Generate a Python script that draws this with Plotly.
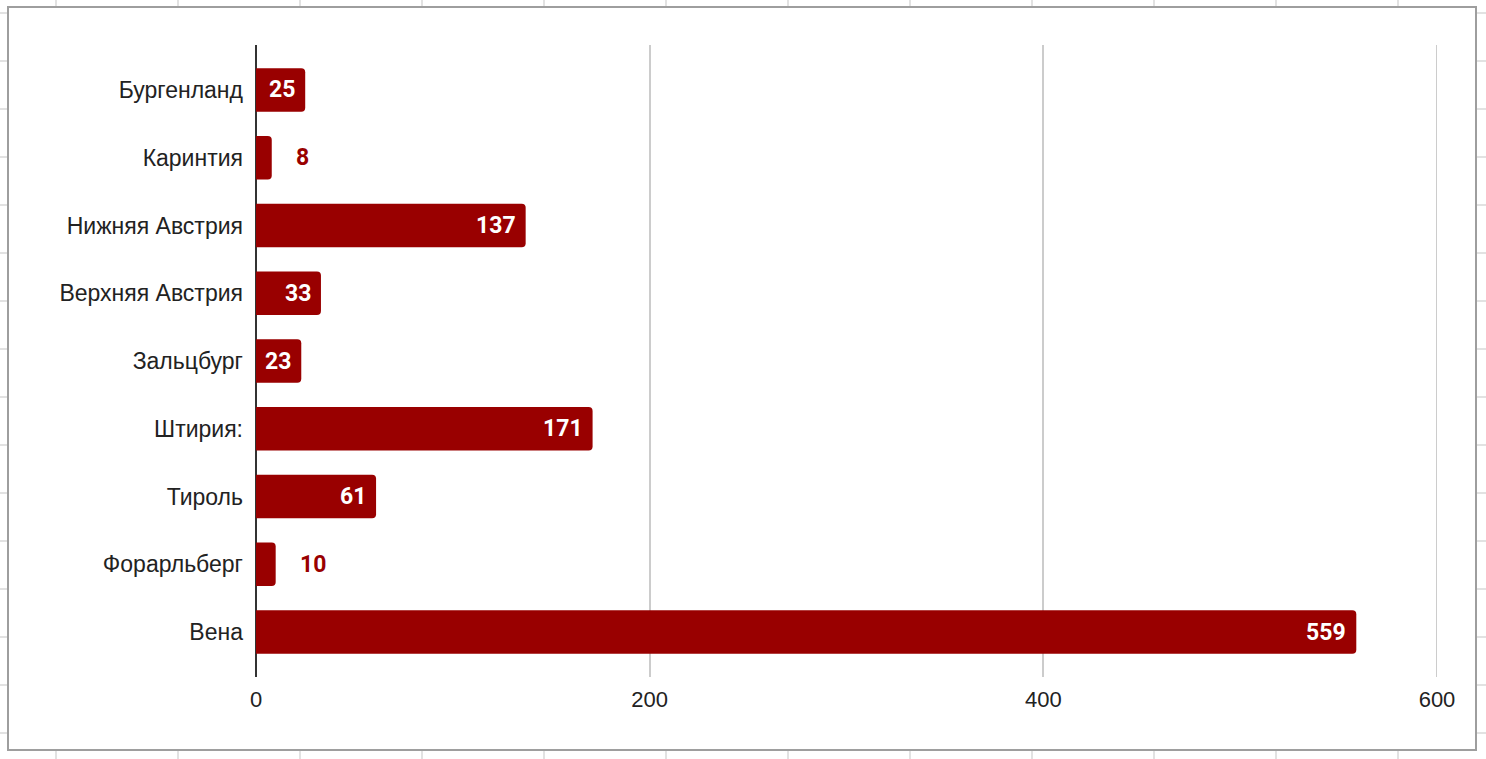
import plotly.graph_objects as go

# ---- data ----
regions = ["Бургенланд", "Каринтия", "Нижняя Австрия", "Верхняя Австрия",
           "Зальцбург", "Штирия:", "Тироль", "Форарльберг", "Вена"]
values = [25, 8, 137, 33, 23, 171, 61, 10, 559]
x_ticks = [0, 200, 400, 600]
x_tick_labels = ["0", "200", "400", "600"]

# ---- layout geometry (pixels) ----
W, H = 1486, 759
L, R, T, B = 256, 49, 45, 82
PW, PH = W - L - R, H - T - B

def px(p):
    return (p - L) / PW

def py(p):
    return 1 - (p - T) / PH

BAR = "#990000"
GRID = "#cccccc"
inside_threshold = 20

fig = go.Figure()
fig.add_trace(go.Bar(
    x=values, y=regions, orientation="h",
    marker=dict(color=BAR, cornerradius=4, line=dict(width=0)),
    width=0.64, hoverinfo="x+y",
))

annotations = []
for r, v in zip(regions, values):
    if v >= inside_threshold:
        annotations.append(dict(x=v, y=r, xref="x", yref="y", text=f"<b>{v}</b>",
                                showarrow=False, xanchor="right", xshift=-8,
                                font=dict(family="Roboto", size=23, color="#ffffff")))
    else:
        annotations.append(dict(x=v, y=r, xref="x", yref="y", text=f"<b>{v}</b>",
                                showarrow=False, xanchor="left", xshift=22,
                                font=dict(family="Roboto", size=23, color=BAR)))

shapes = []
# gridline at the last tick (plotly omits grid lines on the range edge)
shapes.append(dict(type="line", xref="x", yref="paper",
                   x0=x_ticks[-1], x1=x_ticks[-1], y0=0, y1=1,
                   line=dict(color=GRID, width=2), layer="below"))
# spreadsheet grid behind the chart frame
grid_col = "#e2e2e2"
for gx in [56, 178, 300, 422, 544, 666, 788, 910, 1032, 1154, 1276, 1398]:
    shapes.append(dict(type="line", xref="paper", yref="paper",
                       x0=px(gx), x1=px(gx), y0=py(750), y1=py(759),
                       line=dict(color=grid_col, width=2), layer="below"))
    shapes.append(dict(type="line", xref="paper", yref="paper",
                       x0=px(gx), x1=px(gx), y0=py(0), y1=py(7),
                       line=dict(color=grid_col, width=2), layer="below"))
for gy in range(13, 759, 48):
    shapes.append(dict(type="line", xref="paper", yref="paper",
                       x0=px(0), x1=px(8), y0=py(gy), y1=py(gy),
                       line=dict(color=grid_col, width=2), layer="below"))
    shapes.append(dict(type="line", xref="paper", yref="paper",
                       x0=px(1476), x1=px(1486), y0=py(gy), y1=py(gy),
                       line=dict(color=grid_col, width=2), layer="below"))
# chart frame
shapes.append(dict(type="rect", xref="paper", yref="paper",
                   x0=px(8), x1=px(1476), y0=py(750), y1=py(7),
                   line=dict(color="#9e9e9e", width=2), fillcolor="rgba(0,0,0,0)",
                   layer="below"))

fig.update_layout(
    width=W, height=H,
    margin=dict(l=L, r=R, t=T, b=B, pad=0),
    paper_bgcolor="#ffffff", plot_bgcolor="#ffffff",
    showlegend=False,
    font=dict(family="Liberation Sans, Arial", size=22, color="#222222"),
    annotations=annotations,
    shapes=shapes,
    bargap=0.36,
)
fig.update_xaxes(
    range=[0, 600], tickvals=x_ticks, ticktext=x_tick_labels,
    showgrid=True, gridcolor=GRID, gridwidth=2,
    zeroline=True, zerolinecolor="#333333", zerolinewidth=2,
    showline=False, ticks="", ticklabelstandoff=7,
    tickfont=dict(size=22, color="#222222"), fixedrange=True,
)
fig.update_yaxes(
    type="category", categoryorder="array", categoryarray=regions,
    range=[8.664, -0.664], showgrid=False, zeroline=False, showline=False,
    ticks="", ticklabelstandoff=12,
    tickfont=dict(size=23, color="#222222"), fixedrange=True,
)

fig.write_html("out.html", config={"displayModeBar": False},
               post_script="document.body.style.margin='0';document.body.style.overflow='hidden';")
